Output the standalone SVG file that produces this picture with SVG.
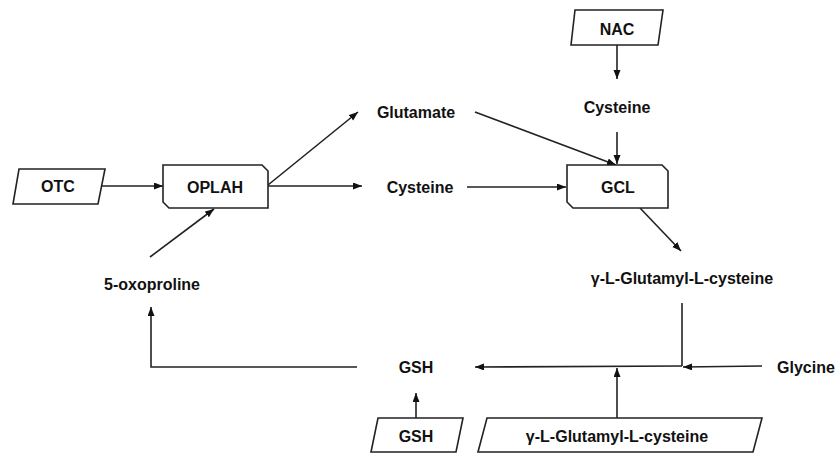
<svg xmlns="http://www.w3.org/2000/svg" width="838" height="453" viewBox="0 0 838 453">
<style>
text{font-family:"Liberation Sans",Arial,sans-serif;font-weight:bold;font-size:16px;fill:#111;text-anchor:middle}
.box{fill:#fff;stroke:#222;stroke-width:1.6}
.ln{fill:none;stroke:#222;stroke-width:1.6}
</style>
<defs>
<marker id="ah" markerUnits="userSpaceOnUse" markerWidth="10" markerHeight="8" refX="9" refY="3.5" orient="auto">
<path d="M0,0 L9,3.5 L0,7 z" fill="#111"/>
</marker>
</defs>
<rect width="838" height="453" fill="#fff"/>
<g id="connectors">
<path class="ln" d="M98,186 L163,186" marker-end="url(#ah)"/>
<path class="ln" d="M150,257 L214,209" marker-end="url(#ah)"/>
<path class="ln" d="M268,185 L358,112" marker-end="url(#ah)"/>
<path class="ln" d="M268,186 L362,186" marker-end="url(#ah)"/>
<path class="ln" d="M475,112 L616,165" marker-end="url(#ah)"/>
<path class="ln" d="M467,187 L566,187" marker-end="url(#ah)"/>
<path class="ln" d="M617,45 L617,79" marker-end="url(#ah)"/>
<path class="ln" d="M617,132 L617,164" marker-end="url(#ah)"/>
<path class="ln" d="M640,208 L681,251" marker-end="url(#ah)"/>
<path class="ln" d="M682,303 L682,366"/>
<path class="ln" d="M762,366 L683,367" marker-end="url(#ah)"/>
<path class="ln" d="M682,366 L475,367" marker-end="url(#ah)"/>
<path class="ln" d="M617,418 L617,368" marker-end="url(#ah)"/>
<path class="ln" d="M416,418 L416,393" marker-end="url(#ah)"/>
<path class="ln" d="M357,367 L151,367 L151,307" marker-end="url(#ah)"/>
</g>
<g id="OTC"><path class="box" d="M19,169 L105,169 L98,204 L13,204 Z"/><text x="58" y="192">OTC</text></g>
<g id="OPLAH"><path class="box" d="M163,165 L262,165 L268,171 L268,208 L169,208 L163,202 Z"/><text x="215" y="193">OPLAH</text></g>
<g id="oxoproline"><text x="152" y="290">5-oxoproline</text></g>
<g id="Glutamate"><text x="416" y="118">Glutamate</text></g>
<g id="Cysteine2"><text x="420" y="193">Cysteine</text></g>
<g id="NAC"><path class="box" d="M575,10 L663,10 L658,45 L571,45 Z"/><text x="617" y="35">NAC</text></g>
<g id="Cysteine1"><text x="617" y="113">Cysteine</text></g>
<g id="GCL"><path class="box" d="M567,165 L662,165 L668,171 L668,208 L573,208 L567,202 Z"/><text x="618" y="193">GCL</text></g>
<g id="gGC"><text x="682" y="284">γ-L-Glutamyl-L-cysteine</text></g>
<g id="Glycine"><text x="777" y="373" style="text-anchor:start">Glycine</text></g>
<g id="GSH"><text x="416" y="373">GSH</text></g>
<g id="GSHin"><path class="box" d="M378,418 L463,418 L456,452 L371,452 Z"/><text x="416" y="442">GSH</text></g>
<g id="gGCin"><path class="box" d="M487,418 L762,418 L753,452 L478,452 Z"/><text x="617" y="442">γ-L-Glutamyl-L-cysteine</text></g>
</svg>
